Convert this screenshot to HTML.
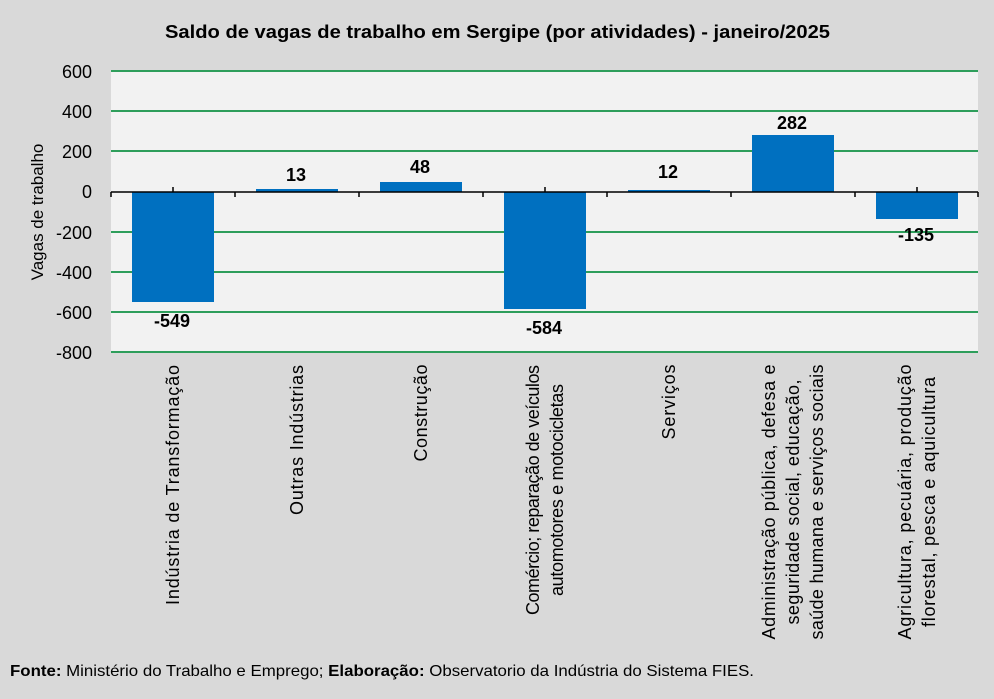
<!DOCTYPE html>
<html><head><meta charset="utf-8"><style>
body{margin:0;background:#d9d9d9;}
svg text{font-family:"Liberation Sans",sans-serif;fill:#000;}
</style></head><body>
<svg width="994" height="694" xmlns="http://www.w3.org/2000/svg">
<rect width="994" height="694" fill="#d9d9d9"/>
<text x="165" y="38" font-size="18" font-weight="bold" textLength="665" lengthAdjust="spacingAndGlyphs">Saldo de vagas de trabalho em Sergipe (por atividades) - janeiro/2025</text>
<rect x="111" y="71" width="867" height="282" fill="#f2f2f2"/>
<g stroke="#2e9e5b" stroke-width="2">
<line x1="111" x2="978" y1="71" y2="71"/>
<line x1="111" x2="978" y1="111" y2="111"/>
<line x1="111" x2="978" y1="151" y2="151"/>
<line x1="111" x2="978" y1="232" y2="232"/>
<line x1="111" x2="978" y1="272" y2="272"/>
<line x1="111" x2="978" y1="312" y2="312"/>
<line x1="111" x2="978" y1="352" y2="352"/>
</g>
<g font-size="18" text-anchor="end">
<text x="92" y="78">600</text><text x="92" y="118">400</text><text x="92" y="158">200</text>
<text x="92" y="198">0</text><text x="92" y="239">-200</text><text x="92" y="279">-400</text>
<text x="92" y="319">-600</text><text x="92" y="359">-800</text>
</g>
<text transform="translate(43,212) rotate(-90)" text-anchor="middle" font-size="17">Vagas de trabalho</text>
<g fill="#0070c0">
<rect x="132" y="192" width="82" height="110"/>
<rect x="256" y="189" width="82" height="3"/>
<rect x="380" y="182" width="82" height="10"/>
<rect x="504" y="192" width="82" height="117"/>
<rect x="628" y="190" width="82" height="2"/>
<rect x="752" y="135" width="82" height="57"/>
<rect x="876" y="192" width="82" height="27"/>
</g>
<line x1="111" x2="978" y1="192" y2="192" stroke="#000" stroke-width="1.5"/>
<g stroke="#000" stroke-width="1.5">
<line x1="111" x2="111" y1="192" y2="197"/><line x1="235" x2="235" y1="192" y2="197"/>
<line x1="359" x2="359" y1="192" y2="197"/><line x1="483" x2="483" y1="192" y2="197"/>
<line x1="607" x2="607" y1="192" y2="197"/><line x1="731" x2="731" y1="192" y2="197"/>
<line x1="855" x2="855" y1="192" y2="197"/><line x1="978" x2="978" y1="192" y2="197"/>
<line x1="173" x2="173" y1="187" y2="192"/>
<line x1="545" x2="545" y1="187" y2="192"/>
<line x1="917" x2="917" y1="187" y2="192"/>
</g>
<g font-size="18" font-weight="bold" text-anchor="middle">
<text x="172" y="327">-549</text><text x="296" y="181">13</text><text x="420" y="173">48</text>
<text x="544" y="334">-584</text><text x="668" y="178">12</text><text x="792" y="129">282</text>
<text x="916" y="241">-135</text>
</g>
<g font-size="18" text-anchor="middle" lengthAdjust="spacingAndGlyphs">
<text transform="translate(179,485) rotate(-90)" textLength="240">Indústria de Transformação</text>
<text transform="translate(303,440) rotate(-90)" textLength="150">Outras Indústrias</text>
<text transform="translate(427,413) rotate(-90)" textLength="97">Construção</text>
<text transform="translate(539,490) rotate(-90)" textLength="250">Comércio; reparação de veículos</text>
<text transform="translate(563,490) rotate(-90)" textLength="212">automotores e motocicletas</text>
<text transform="translate(675,402) rotate(-90)" textLength="75">Serviços</text>
<text transform="translate(775,502) rotate(-90)" textLength="275">Administração pública, defesa e</text>
<text transform="translate(799,502) rotate(-90)" textLength="245">seguridade social, educação,</text>
<text transform="translate(823,502) rotate(-90)" textLength="275">saúde humana e serviços sociais</text>
<text transform="translate(911,502) rotate(-90)" textLength="275">Agricultura, pecuária, produção</text>
<text transform="translate(935,502) rotate(-90)" textLength="250">florestal, pesca e aquicultura</text>
</g>
<text x="10" y="676" font-size="16" textLength="744" lengthAdjust="spacingAndGlyphs"><tspan font-weight="bold">Fonte:</tspan> Ministério do Trabalho e Emprego; <tspan font-weight="bold">Elaboração:</tspan> Observatorio da Indústria do Sistema FIES.</text>
</svg>
</body></html>
